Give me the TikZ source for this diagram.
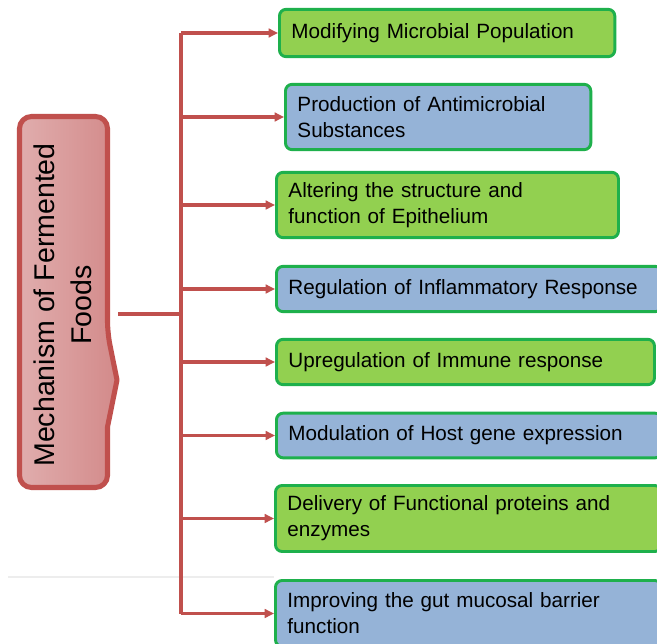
\documentclass[tikz,border=0pt]{standalone}
\usepackage{fontspec}
\setmainfont{Liberation Sans}
\usetikzlibrary{arrows.meta,positioning,calc}
\definecolor{mechred}{HTML}{C0504D}
\definecolor{mechleft}{HTML}{E0ADAD}
\definecolor{mechright}{HTML}{D38A8A}
\definecolor{leafgreen}{HTML}{92D050}
\definecolor{leafblue}{HTML}{95B3D7}
\definecolor{leafedge}{HTML}{1EB04C}
\tikzset{
  leaf/.style={rectangle,draw=leafedge,line width=2.2pt,rounded corners=5pt,
    anchor=west,align=left,inner xsep=9pt,inner ysep=2pt,
    font=\fontsize{15.5}{19.5}\selectfont},
  greenleaf/.style={leaf,fill=leafgreen},
  blueleaf/.style={leaf,fill=leafblue},
  branch/.style={draw=mechred,line width=2.4pt,-{Triangle[length=7pt,width=6.5pt]}},
  spine/.style={draw=mechred,line width=2.4pt}
}

\begin{document}
\begin{tikzpicture}[x=0.75pt,y=-0.75pt]
\clip (0,0) rectangle (657,643);
\fill[white] (0,0) rectangle (657,643);

% =========================================================
% Root box
% =========================================================

\shade[left color=mechleft,right color=mechright,rounded corners=9pt]
  (19.5,116.5) -- (107.5,116.5) -- (107.5,333) [sharp corners] -- (117,380)
  -- (107.5,427) [rounded corners=9pt] -- (107.5,487.5) -- (19.5,487.5) -- cycle;
\draw[mechred,line width=3.8pt,line join=round,rounded corners=9pt]
  (19.5,116.5) -- (107.5,116.5) -- (107.5,333) [sharp corners] -- (117,380)
  -- (107.5,427) [rounded corners=9pt] -- (107.5,487.5) -- (19.5,487.5) -- cycle;

\node[rotate=90,align=center,font=\fontsize{21.4}{27.75}\selectfont] (mech)
  at (63,305) {Mechanism of Fermented\\Foods};

\coordinate (hub) at (118,314);
\coordinate (trunk) at (181,0);

% =========================================================
% Mechanisms
% =========================================================

\node[greenleaf,text width=233.5pt,minimum height=35.5pt] (b1) at (278,33)
  {Modifying Microbial Population};
\node[blueleaf,text width=211pt,minimum height=49pt] (b2) at (284,117)
  {Production of Antimicrobial\\Substances};
\node[greenleaf,text width=238.5pt,minimum height=49pt] (b3) at (275,205)
  {Altering the structure and\\function of Epithelium};
\node[blueleaf,text width=271pt,minimum height=34pt] (b4) at (275,289)
  {Regulation of Inflammatory Response};
\node[greenleaf,text width=265.5pt,minimum height=34pt] (b5) at (275,362)
  {Upregulation of Immune response};
\node[blueleaf,text width=271pt,minimum height=33.5pt] (b6) at (275,435.5)
  {Modulation of Host gene expression};
\node[greenleaf,text width=271.5pt,minimum height=49.5pt] (b7) at (274,518.5)
  {Delivery of Functional proteins and\\enzymes};
\node[blueleaf,text width=271.5pt,minimum height=49.5pt] (b8) at (274,613.5)
  {Improving the gut mucosal barrier\\function};

% faint rule behind the last box
\draw[draw=black!7,line width=1pt] (8,577) -- (b8.west |- 0,577);

% =========================================================
% Connectors
% =========================================================

\draw[spine] (hub) -- (trunk |- hub);
\draw[spine] (trunk |- b1.west) -- (trunk |- b8.west);
\foreach \b in {b1,b2,b3,b4,b5,b6,b7,b8}
  \draw[branch] (trunk |- \b.west) -- (\b.west);

\end{tikzpicture}
\end{document}
